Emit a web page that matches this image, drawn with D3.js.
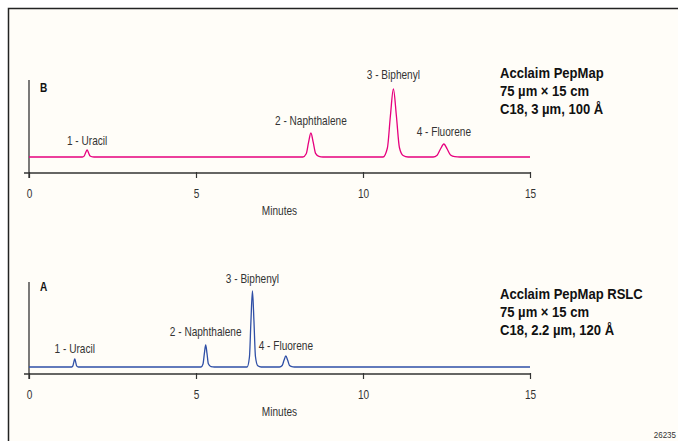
<!DOCTYPE html>
<html><head><meta charset="utf-8">
<script src="https://cdn.jsdelivr.net/npm/d3@7"></script>
<style>
html,body{margin:0;padding:0;background:#fff;}
svg{display:block;}
</style></head>
<body>
<svg id="c" width="678" height="441"></svg>
<script>
// ---- Data ----
const xTicks = [0, 5, 10, 15];
const xLabel = "Minutes";

// Panel B trace: [minutes, signal]
const traceB = [
  [0,0],[1.60,0],[1.65,0.9],[1.695,4.3],[1.74,7],[1.785,4.0],[1.83,1.0],[1.90,0.2],[2.0,0],
  [8.20,0],[8.30,3.2],[8.37,14.6],[8.44,24],[8.51,14.6],[8.58,3.6],[8.68,0.6],[8.80,0],
  [10.60,0],[10.73,9],[10.82,41],[10.91,68],[11.00,41],[11.09,9.5],[11.20,1.5],[11.35,0],
  [12.10,0],[12.22,1.8],[12.32,8],[12.42,13],[12.52,8],[12.62,2],[12.75,0.3],[12.90,0],
  [15,0]
];
// Panel A trace
const traceA = [
  [0,0],[1.28,0],[1.314,1.1],[1.342,4.9],[1.37,8],[1.398,4.9],[1.426,1.1],[1.48,0],
  [5.15,0],[5.21,3],[5.25,13.4],[5.29,22],[5.33,13.4],[5.37,3.2],[5.45,0.3],[5.55,0],
  [6.53,0],[6.60,10],[6.645,46],[6.69,76],[6.735,46],[6.78,10.5],[6.85,1.2],[6.95,0],
  [7.50,0],[7.58,1.5],[7.635,6.7],[7.69,11],[7.745,6.7],[7.80,1.6],[7.90,0.2],[8.00,0],
  [15,0]
];
// Peak labels: [text, minutes, signal at label baseline]
const peakLabelsB = [["1 - Uracil",1.74,12],["2 - Naphthalene",8.44,32],["3 - Biphenyl",10.91,78],["4 - Fluorene",12.42,21]];
const peakLabelsA = [["1 - Uracil",1.37,14],["2 - Naphthalene",5.29,31],["3 - Biphenyl",6.69,84.5],["4 - Fluorene",7.69,17]];
const titleB = ["Acclaim PepMap","75 µm × 15 cm","C18, 3 µm, 100 Å"];
const titleA = ["Acclaim PepMap RSLC","75 µm × 15 cm","C18, 2.2 µm, 120 Å"];
const panelLetters = ["B","A"];
const figId = "26235";

// ---- Drawing ----
const svg = d3.select("#c");
const font = "'Liberation Sans',Arial,Helvetica,sans-serif";
const SX = 0.84;   // condensed look

function txt(g, x, y, s, size, opts={}){
  return g.append("text")
    .attr("transform", `translate(${x},${y}) scale(${opts.sx||SX},1)`)
    .attr("text-anchor", opts.anchor||"start")
    .attr("font-family", font).attr("font-size", size)
    .attr("font-weight", opts.bold?"bold":"normal")
    .attr("fill", opts.fill||"#333").text(s);
}

// frame
svg.append("rect").attr("x",8.5).attr("y",8.5).attr("width",700).attr("height",460)
  .attr("fill","#fffdf8").attr("stroke","#222").attr("stroke-width",1.5);

const x = d3.scaleLinear().domain([0,15]).range([29,530]);

function panel(opts){
  const g = svg.append("g");
  const y = d3.scaleLinear().domain(opts.yDomain).range(opts.yRange);
  const axisY = opts.yRange[0];
  // x axis
  const ax = g.append("g").attr("transform",`translate(0,${axisY})`)
    .call(d3.axisBottom(x).tickValues(xTicks).tickSize(5).tickPadding(11).tickSizeOuter(0));
  ax.select(".domain").remove();
  g.append("line").attr("x1",24).attr("x2",530).attr("y1",axisY).attr("y2",axisY)
    .attr("stroke","#333").attr("stroke-width",1.3);
  ax.selectAll(".tick line").attr("stroke","#333").attr("stroke-width",1.2).attr("y1",-1);
  ax.selectAll(".tick text").attr("font-family",font).attr("font-size",12).attr("fill","#333")
    .attr("transform",`scale(${SX},1)`);
  // y axis line
  g.append("line").attr("x1",29).attr("x2",29).attr("y1",opts.yRange[1]).attr("y2",axisY+5)
    .attr("stroke","#333").attr("stroke-width",1.3);
  // x label
  txt(g, x(7.5), axisY+42, xLabel, 12, {anchor:"middle"});
  // trace
  g.append("path").datum(opts.trace)
    .attr("d",d3.line().x(d=>x(d[0])).y(d=>y(d[1])).curve(d3.curveMonotoneX))
    .attr("fill","none").attr("stroke",opts.color).attr("stroke-width",1.3);
  // peak labels
  opts.labels.forEach(d => txt(g, x(d[1]), y(d[2]), d[0], 12, {anchor:"middle"}));
  // letter
  txt(g, 40, opts.letterY, opts.letter, 12, {bold:true, fill:"#111"});
  // title block
  opts.title.forEach((d,i) => txt(g, 500, opts.titleY + i*18, d, 14.5, {bold:true, fill:"#111", sx:0.9}));
}

panel({trace:traceB, color:"#e6007e", yDomain:[-16,77], yRange:[173,80], labels:peakLabelsB,
  letter:panelLetters[0], letterY:92, title:titleB, titleY:78});
panel({trace:traceA, color:"#2f4fa6", yDomain:[-7,85], yRange:[374,282], labels:peakLabelsA,
  letter:panelLetters[1], letterY:291, title:titleA, titleY:299});

txt(svg, 676, 438, figId, 9.5, {anchor:"end"});
</script>
</body></html>
